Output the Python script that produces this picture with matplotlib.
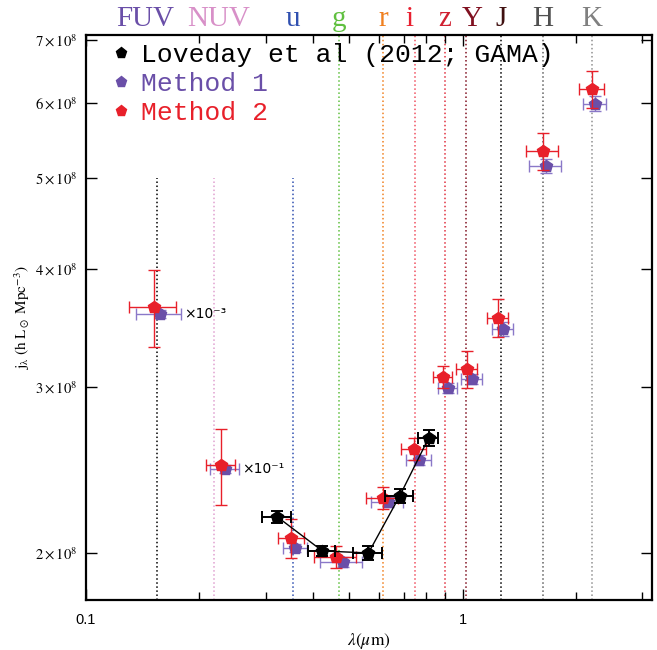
import matplotlib
matplotlib.use("Agg")
import matplotlib.pyplot as plt
from matplotlib.lines import Line2D
from matplotlib.ticker import FixedLocator, NullFormatter, NullLocator
import numpy as np

plt.rcParams['mathtext.fontset'] = 'stix'

# band names, line positions (micron) and colours
filters = ['FUV', 'NUV', 'u', 'g', 'r', 'i', 'z', 'Y', 'J', 'H', 'K']
filter_wl = [0.1545, 0.219, 0.355, 0.468, 0.616, 0.745, 0.896, 1.02, 1.262, 1.632, 2.20]
label_col = ['#6a4fa8', '#d890c8', '#3050b0', '#60c040', '#f08020', '#e82030',
             '#d02030', '#801020', '#401010', '#505050', '#808080']
line_col = ['black', '#e0a0d0', '#3050b0', '#60c040', '#f08020', '#f05060',
            '#e03040', '#801020', 'black', '#606060', '#909090']
short_lines = ['FUV', 'NUV', 'u']

# Loveday et al (2012; GAMA), in 1e8 h Lsun Mpc^-3
loveday_wl = [0.322, 0.424, 0.562, 0.680, 0.812]
loveday_wl_err = [0.028, 0.035, 0.050, 0.057, 0.049]
loveday_j = [2.184, 2.010, 2.000, 2.298, 2.648]
loveday_j_err = [0.032, 0.025, 0.034, 0.040, 0.049]

# Method 1
m1_wl = [0.1573, 0.2343, 0.3597, 0.4797, 0.632, 0.764, 0.912, 1.057, 1.278, 1.663, 2.244]
m1_wl_err = [0.0215, 0.021, 0.027, 0.062, 0.061, 0.058, 0.052, 0.067, 0.081, 0.16, 0.156]
m1_j = [3.585, 2.455, 2.024, 1.956, 2.265, 2.510, 2.993, 3.057, 3.456, 5.146, 5.987]
m1_j_err = [0.035, 0.024, 0.020, 0.024, 0.028, 0.031, 0.037, 0.038, 0.059, 0.088, 0.110]

# Method 2
m2_wl = [0.1517, 0.2286, 0.351, 0.462, 0.613, 0.741, 0.885, 1.024, 1.239, 1.632, 2.20]
m2_wl_err = [0.0214, 0.0205, 0.028, 0.060, 0.059, 0.056, 0.050, 0.065, 0.078, 0.157, 0.167]
m2_j = [3.646, 2.479, 2.074, 1.980, 2.287, 2.578, 3.075, 3.134, 3.550, 5.338, 6.210]
m2_j_err = [0.34, 0.23, 0.097, 0.054, 0.062, 0.070, 0.084, 0.141, 0.164, 0.24, 0.28]

scale_notes = {'FUV': '×10⁻³', 'NUV': '×10⁻¹'}

scale = 1e8
purple = '#6a4fa8'
red = '#e8202a'

fig = plt.figure(figsize=(6.57, 6.50), dpi=100)
ax = fig.add_axes([0.1309, 0.0769, 0.8615, 0.869])
ax.set_xscale('log')
ax.set_yscale('log')
ax.set_xlim(0.1, 3.18)
ax.set_ylim(1.783e8, 7.08e8)

# filter lines
for name, wl, c in zip(filters, filter_wl, line_col):
    if name in short_lines:
        ax.vlines(wl, 1.783e8, 5e8, colors=c, linestyles=':', linewidth=1.1, zorder=1)
    else:
        ax.axvline(wl, color=c, linestyle=':', linewidth=1.1, zorder=1)

# top band labels
shifts = {'FUV': -12, 'NUV': 4, 'i': -5, 'Y': 6}
for name, wl, c in zip(filters, filter_wl, label_col):
    ax.annotate(name, xy=(wl, 1.0), xycoords=('data', 'axes fraction'),
                xytext=(shifts.get(name, 0) * 0.72, 6.5), textcoords='offset points',
                ha='center', va='baseline', color=c, fontsize=21,
                family='Liberation Serif', annotation_clip=False)

ekw = dict(fmt='p', markersize=9, capsize=4, elinewidth=1.0, capthick=1.0)
ax.errorbar(m1_wl, np.array(m1_j) * scale, xerr=m1_wl_err, yerr=np.array(m1_j_err) * scale,
            color=purple, ecolor='#8a78c8', zorder=3, **ekw)
ax.errorbar(m2_wl, np.array(m2_j) * scale, xerr=m2_wl_err, yerr=np.array(m2_j_err) * scale,
            color=red, ecolor=red, zorder=4, **ekw)
ax.plot(loveday_wl, np.array(loveday_j) * scale, color='black', linewidth=1.0, zorder=5)
ax.errorbar(loveday_wl, np.array(loveday_j) * scale, xerr=loveday_wl_err,
            yerr=np.array(loveday_j_err) * scale, color='black', zorder=6,
            fmt='p', markersize=9, capsize=4, elinewidth=1.4, capthick=1.4)

# scale notes next to the UV points
for name, note in scale_notes.items():
    i = filters.index(name)
    ax.annotate(note, xy=(m1_wl[i] + m1_wl_err[i], m1_j[i] * scale), xytext=(2, 0),
                textcoords='offset points', ha='left', va='center', fontsize=10,
                family='DejaVu Sans')

# axes style
for s in ax.spines.values():
    s.set_linewidth(1.6)
ax.xaxis.set_major_locator(FixedLocator([0.1, 1]))
ax.xaxis.set_minor_locator(FixedLocator([0.2, 0.3, 0.4, 0.5, 0.6, 0.7, 0.8, 0.9, 2, 3]))
ax.xaxis.set_minor_formatter(NullFormatter())
ax.set_xticklabels(['0.1', '1'], family='Liberation Sans', fontsize=10.5)
yt = [2e8, 3e8, 4e8, 5e8, 6e8, 7e8]
ax.yaxis.set_major_locator(FixedLocator(yt))
ax.yaxis.set_minor_locator(NullLocator())
ax.set_yticklabels([r'$%d\times10^{8}$' % (v / 1e8) for v in yt], fontsize=10.5)
ax.tick_params(which='both', direction='in', top=True, right=True, width=1.0)
ax.tick_params(which='major', length=8, pad=6)
ax.tick_params(which='minor', length=6)
ax.tick_params(axis='x', which='major', pad=9)

ax.set_xlabel(r'$\lambda(\mu{\rm m})$', fontsize=12.5, labelpad=3)
ax.set_ylabel(r'$\rm j_\lambda\ (h\ L_\odot\ Mpc^{-3})$', fontsize=11, labelpad=2)

handles = [Line2D([], [], linestyle='none', marker='p', markersize=8, color=c)
           for c in ['black', purple, red]]
leg = ax.legend(handles, ['Loveday et al (2012; GAMA)', 'Method 1', 'Method 2'],
                loc='upper left', bbox_to_anchor=(0.03, 1.005), frameon=False,
                handlelength=0.6, handletextpad=0.45,
                labelspacing=0.2, borderaxespad=0.0,
                prop={'family': 'Liberation Mono', 'size': 19},
                labelcolor=['black', purple, red])

fig.savefig('out.png', dpi=100)
